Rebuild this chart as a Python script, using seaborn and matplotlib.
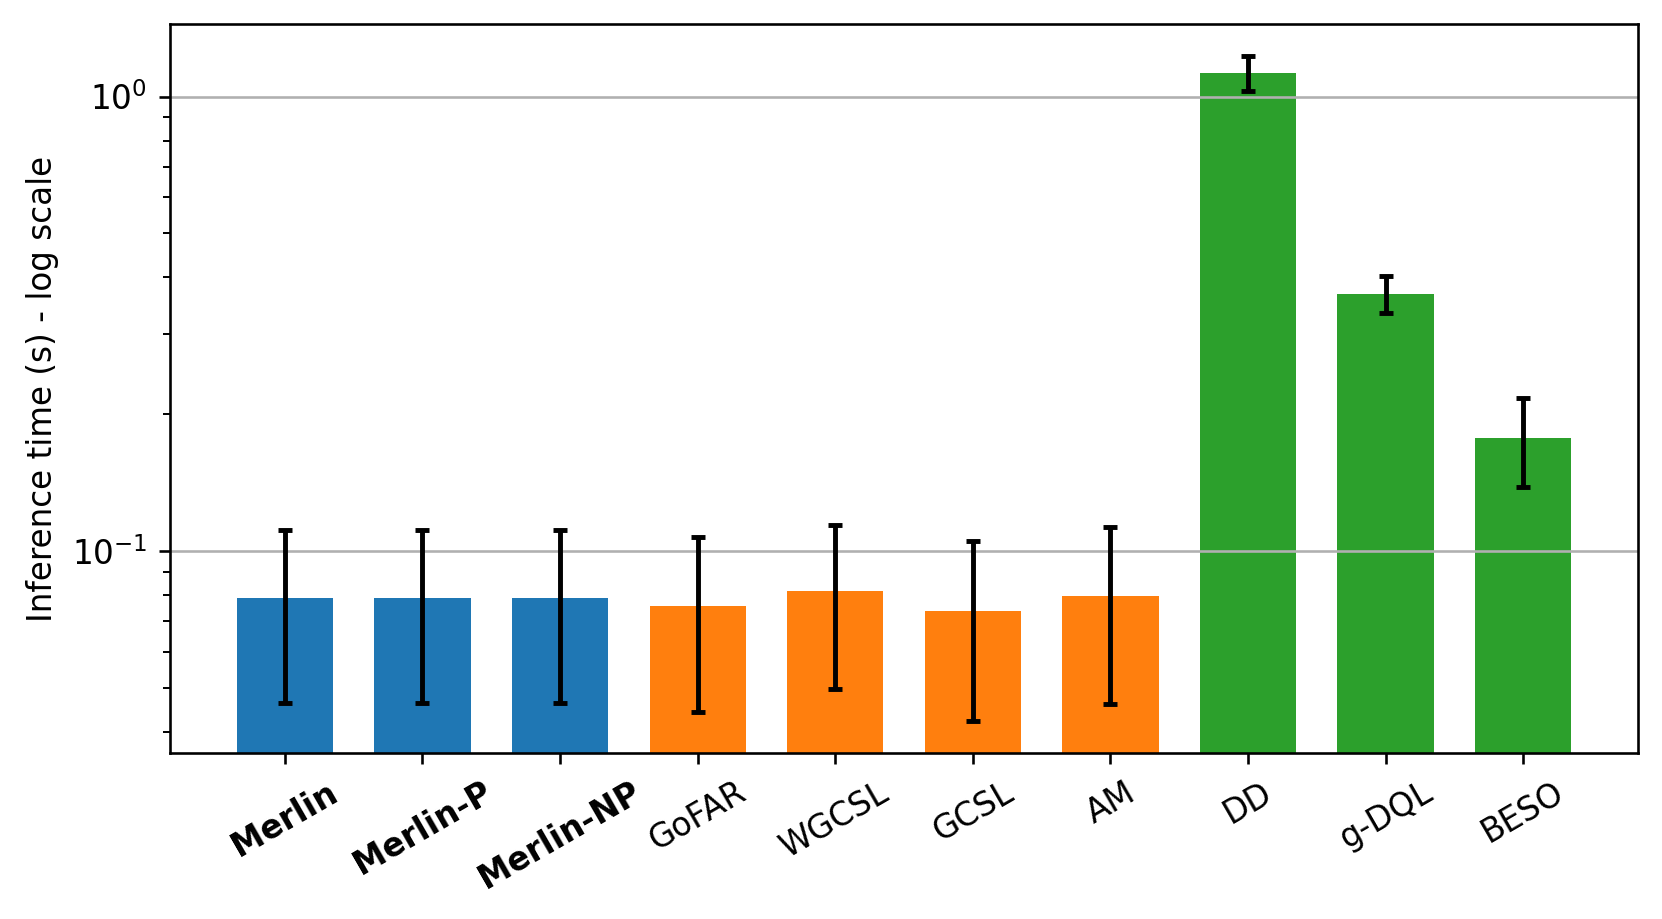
"""Inference time per method, log-scale bar chart."""
import matplotlib

matplotlib.use("Agg")
import matplotlib.pyplot as plt
import seaborn as sns

methods = ["Merlin", "Merlin-P", "Merlin-NP", "GoFAR", "WGCSL", "GCSL", "AM",
           "DD", "g-DQL", "BESO"]
mean_time = [0.0788, 0.0788, 0.0788, 0.0758, 0.0818, 0.0738, 0.0795,
             1.127, 0.368, 0.1774]
std_time = [0.0325, 0.0325, 0.0325, 0.0317, 0.0322, 0.0315, 0.0334,
            0.100, 0.034, 0.0393]
groups = ["ours"] * 3 + ["rl"] * 4 + ["diffusion"] * 3
bold_methods = ["Merlin", "Merlin-P", "Merlin-NP"]

group_colors = {"ours": "#1f77b4", "rl": "#ff7f0e", "diffusion": "#2ca02c"}
palette = {m: group_colors[g] for m, g in zip(methods, groups)}

DPI = 235
fig, ax = plt.subplots(figsize=(1662 / DPI, 919 / DPI), dpi=DPI)
fig.subplots_adjust(left=0.1023, right=0.9856, top=0.974, bottom=0.1806)

sns.barplot(x=methods, y=mean_time, hue=methods, palette=palette,
            saturation=1, width=0.7, legend=False, errorbar=None, ax=ax)
ax.set_yscale("log")

xpos = ax.get_xticks()
ax.errorbar(xpos, mean_time, yerr=std_time, fmt="none", ecolor="black",
            elinewidth=1.5, capsize=2, capthick=1.5, zorder=3)

ax.set_ylim(0.0359, 1.445)
ax.set_xlim(-0.835, len(methods) - 1 + 0.835)
ax.yaxis.grid(True, which="major", color="#b0b0b0", linewidth=0.8)
ax.xaxis.grid(False)
ax.set_ylabel("Inference time (s) - log scale")
ax.set_xlabel("")

ax.set_xticks(xpos)
ax.set_xticklabels(methods, rotation=30)
for lbl in ax.get_xticklabels():
    if lbl.get_text() in bold_methods:
        lbl.set_fontweight("bold")

fig.savefig("out.png", dpi=DPI)
plt.close(fig)
